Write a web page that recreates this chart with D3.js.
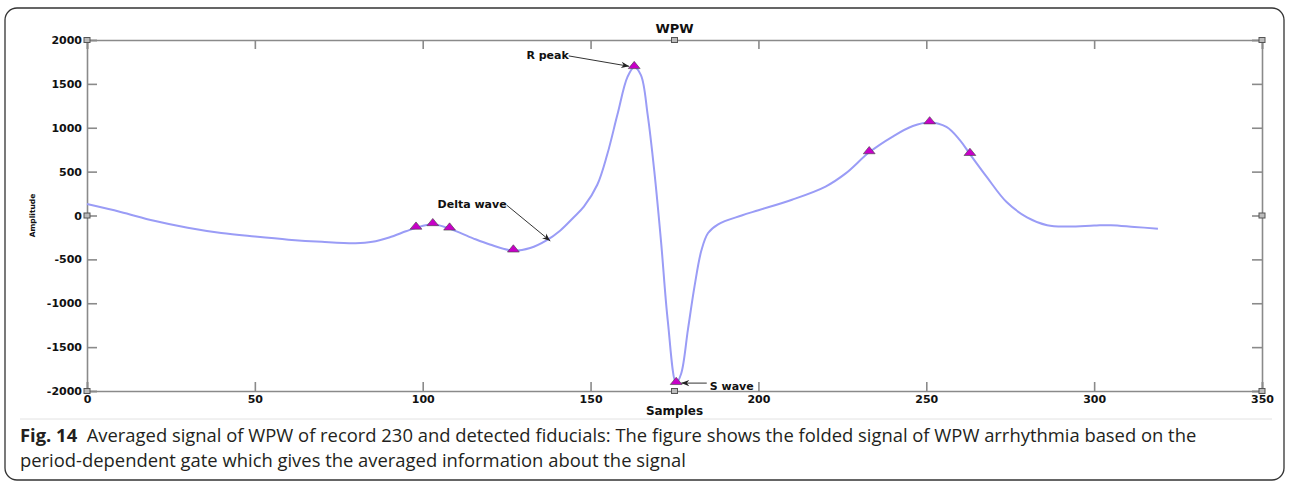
<!DOCTYPE html>
<html>
<head>
<meta charset="utf-8">
<script src="https://cdn.jsdelivr.net/npm/d3@7"></script>
<style>
  html, body { margin: 0; padding: 0; background: #fff; }
  svg { display: block; }
  .tick text { font-family: "DejaVu Sans", sans-serif; font-weight: bold; font-size: 11px; fill: #111; }
  .axis path, .axis line { stroke: #8a8a8a; stroke-width: 1.6; }
  .note { font-family: "DejaVu Sans", sans-serif; font-weight: bold; font-size: 11px; fill: #111; }
  .caption { font-family: "Open Sans", "Noto Sans", sans-serif; font-size: 18.4px; fill: #231f20; }
</style>
</head>
<body>
<div id="chart"></div>
<script>
"use strict";

// averaged WPW beat, record 230 (samples, amplitude)
const samples = [0, 10, 20, 30, 40, 50, 60, 70, 80, 85, 90, 95, 98, 103, 108, 115, 120, 127, 132, 137,
    141, 145, 148, 152, 155, 158, 161, 163, 165, 167, 169, 171, 173, 175.5, 177, 179, 181, 183, 185, 188,
    195, 200, 210, 220, 226, 233, 240, 246, 251, 256, 260, 263, 268, 274, 280, 286, 292, 300, 305, 312, 319];
const amplitude = [130, 40, -60, -140, -200, -240, -275, -300, -315, -300, -250, -180, -140, -100, -150, -260, -330, -400, -370, -280,
    -170, -20, 100, 350, 700, 1150, 1580, 1690, 1600, 1150, 500, -300, -1200, -1910, -1800, -1300, -800, -400, -200, -100,
    0, 60, 180, 330, 480, 720, 900, 1020, 1060, 1010, 860, 700, 440, 150, -20, -110, -125, -115, -110, -130, -150];

// detected fiducials
const fidX = [98, 103, 108, 127, 163, 175.5, 233, 251, 263];
const fidY = [-140, -100, -150, -400, 1690, -1910, 720, 1060, 700];

const xTicks = [0, 50, 100, 150, 200, 250, 300, 350];
const yTicks = [-2000, -1500, -1000, -500, 0, 500, 1000, 1500, 2000];

// annotation labels: text, text anchor point (data), arrow head (data)
const notes = [
    {label: "R peak", tx: 143.5, ty: 1830, hx: 161.5, hy: 1700},
    {label: "Delta wave", tx: 125, ty: 130, hx: 138, hy: -290},
    {label: "S wave", tx: 185.5, ty: -1950, hx: 177, hy: -1910}
];

const captionLines = [
    ["Fig. 14", "  Averaged signal of WPW of record 230 and detected fiducials: The figure shows the folded signal of WPW arrhythmia based on the"],
    ["", "period-dependent gate which gives the averaged information about the signal"]
];

const W = 1290, H = 484;
const plot = {left: 87, right: 1262, top: 40, bottom: 391};

const svg = d3.select("#chart").append("svg")
    .attr("width", W).attr("height", H);

svg.append("defs").append("marker")
    .attr("id", "arrow").attr("viewBox", "0 0 10 10")
    .attr("refX", 10).attr("refY", 5)
    .attr("markerWidth", 10).attr("markerHeight", 8)
    .attr("orient", "auto")
    .append("path").attr("d", "M0,1 L10,5 L0,9 L3,5 Z").attr("fill", "#222");

// figure frame
svg.append("rect")
    .attr("x", 5).attr("y", 8).attr("width", 1279).attr("height", 472)
    .attr("rx", 12).attr("fill", "none").attr("stroke", "#333").attr("stroke-width", 1.3);

const x = d3.scaleLinear().domain([0, 350]).range([plot.left, plot.right]);
const y = d3.scaleLinear().domain([-2000, 2000]).range([plot.bottom, plot.top]);

const g = svg.append("g");

g.append("g").attr("class", "axis")
    .attr("transform", `translate(0,${plot.bottom})`)
    .call(d3.axisBottom(x).tickValues(xTicks).tickSize(-9).tickPadding(4).tickFormat(d => String(d)));
g.append("g").attr("class", "axis")
    .attr("transform", `translate(0,${plot.top})`)
    .call(d3.axisTop(x).tickValues(xTicks).tickSize(-9).tickFormat(""));
g.append("g").attr("class", "axis")
    .attr("transform", `translate(${plot.left},0)`)
    .call(d3.axisLeft(y).tickValues(yTicks).tickSize(-10).tickPadding(5).tickFormat(d => String(d)));
g.append("g").attr("class", "axis")
    .attr("transform", `translate(${plot.right},0)`)
    .call(d3.axisRight(y).tickValues(yTicks).tickSize(-10).tickFormat(""));
g.selectAll(".axis .domain").attr("stroke-width", 1.8);

// small datatip marks left over on the axes
const tipMarks = [[175, 2000], [175, -2000], [0, 0], [0, 2000], [0, -2000], [350, 0], [350, 2000], [350, -2000]];
g.selectAll(".tip").data(tipMarks).join("rect")
    .attr("class", "tip")
    .attr("x", d => x(d[0]) - 3).attr("y", d => y(d[1]) - 2.5)
    .attr("width", 6).attr("height", 5)
    .attr("fill", "#bbb").attr("stroke", "#555").attr("stroke-width", 1);

// signal
const line = d3.line()
    .x((d, i) => x(samples[i]))
    .y(d => y(d))
    .curve(d3.curveCatmullRom.alpha(0.5));
g.append("path")
    .attr("d", line(amplitude))
    .attr("fill", "none")
    .attr("stroke", "#9a9cf6")
    .attr("stroke-width", 2);

// fiducial markers
const tri = d3.symbol().type(d3.symbolTriangle).size(42);
g.selectAll(".fid").data(fidX).join("path")
    .attr("class", "fid")
    .attr("transform", (d, i) => `translate(${x(d)},${y(fidY[i]) - 1}) scale(1.2,0.85)`)
    .attr("d", tri)
    .attr("fill", "#c800c8")
    .attr("stroke", "#444")
    .attr("stroke-width", 0.6);

// annotations
notes.forEach(n => {
    const isS = n.label === "S wave";
    g.append("text").attr("class", "note")
        .attr("x", x(n.tx)).attr("y", y(n.ty)).attr("dy", "0.35em")
        .attr("text-anchor", isS ? "start" : "end")
        .text(n.label);
    g.append("line")
        .attr("x1", isS ? x(n.tx) - 3 : x(n.tx)).attr("y1", isS ? y(n.hy) : y(n.ty) + 1)
        .attr("x2", x(n.hx)).attr("y2", y(n.hy))
        .attr("stroke", "#333").attr("stroke-width", 1)
        .attr("marker-end", "url(#arrow)");
});

// titles
g.append("text").attr("class", "note")
    .attr("x", x(175)).attr("y", plot.top - 7).attr("text-anchor", "middle")
    .style("font-size", "13px").text("WPW");
g.append("text").attr("class", "note")
    .attr("x", x(175)).attr("y", plot.bottom + 24).attr("text-anchor", "middle")
    .style("font-size", "12px").text("Samples");
g.append("text").attr("class", "note")
    .attr("transform", `translate(35,${y(0)}) rotate(-90)`)
    .attr("text-anchor", "middle").style("font-size", "7.5px").text("Amplitude");

// caption
svg.append("line")
    .attr("x1", 20).attr("x2", 1272).attr("y1", 419).attr("y2", 419)
    .attr("stroke", "#e2e2e2").attr("stroke-width", 1);

captionLines.forEach((ln, i) => {
    const t = svg.append("text").attr("class", "caption")
        .attr("x", 20).attr("y", 442 + i * 25);
    if (ln[0]) t.append("tspan").attr("font-weight", "bold").text(ln[0]);
    t.append("tspan").style("white-space", "pre").text(ln[1]);
});
</script>
</body>
</html>
